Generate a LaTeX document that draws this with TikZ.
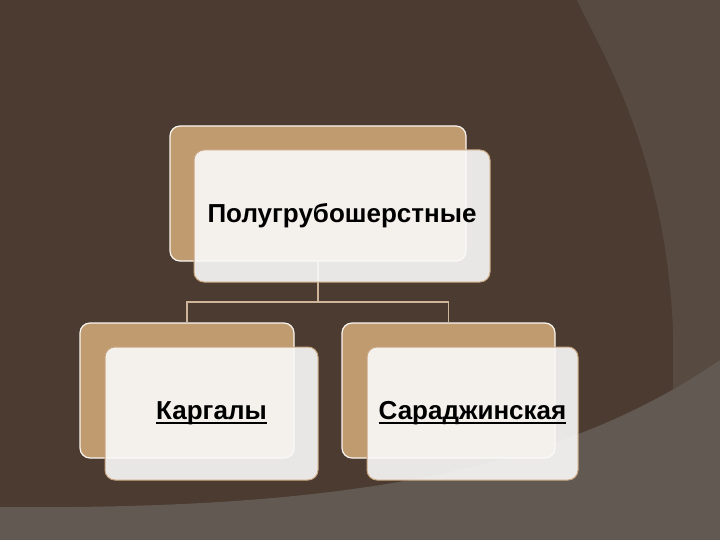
\documentclass[tikz,border=0pt]{standalone}
\usepackage{fontspec}
\setmainfont{Liberation Sans}
\usepackage{xcolor}
\usetikzlibrary{positioning}

\definecolor{bgdark}{HTML}{4B3B30}
\definecolor{bgside}{HTML}{574A41}
\definecolor{bgfloor}{HTML}{625952}
\definecolor{tanfill}{HTML}{C19B70}
\definecolor{rimcol}{HTML}{C9A680}
\definecolor{linkcol}{HTML}{CDB49A}

% thick underline
\newcommand{\ulbold}[1]{\setbox0\hbox{#1}\rlap{\vrule height -2pt depth 3.8pt width \wd0}\box0}

\begin{document}
\begin{tikzpicture}[x=1pt, y=-1pt,
    backbox/.style={draw=white!90!tanfill, line width=1.2pt, fill=tanfill, rounded corners=10pt, inner sep=0pt},
    frontbox/.style={draw=rimcol, line width=1pt, fill=white!96!gray, fill opacity=0.9, text opacity=1, rounded corners=10pt, inner sep=0pt, font=\fontsize{26}{31}\selectfont\bfseries},
    link/.style={draw=linkcol, line width=1.5pt}]
                % Background
                \fill[bgdark] (0,0) rectangle (720,540);
                \fill[bgside] (577,0) .. controls (600,50) and (665,150) .. (673,330) -- (673,420) -- (720,420) -- (720,0) -- cycle;
                \fill[bgfloor] (0,507) .. controls (350,510) and (560,470) .. (720,360) -- (720,540) -- (0,540) -- cycle;

                % Back boxes
                \node[backbox, minimum width=296pt, minimum height=135pt] (topback) at (318,193.5) {};
                \node[backbox, minimum width=214pt, minimum height=135pt] (leftback) at (187,390.5) {};
                \node[backbox, minimum width=213pt, minimum height=135pt] (rightback) at (448.5,390.5) {};

                % Edges
                \coordinate (fork) at (318,302);
                \draw[link] (topback.south) -- (fork);
                \draw[link] (leftback.north) |- (fork) -| (rightback.north);

                % Front boxes
                \node[frontbox, minimum width=296pt, minimum height=132pt] (top) at (342,216) {Полугрубошерстные};
                \node[frontbox, minimum width=213pt, minimum height=133pt] (left) at (211.5,413.5) {\ulbold{Каргалы}};
                \node[frontbox, minimum width=211pt, minimum height=133pt] (right) at (472.5,413.5) {\ulbold{Сараджинская}};
\end{tikzpicture}
\end{document}
